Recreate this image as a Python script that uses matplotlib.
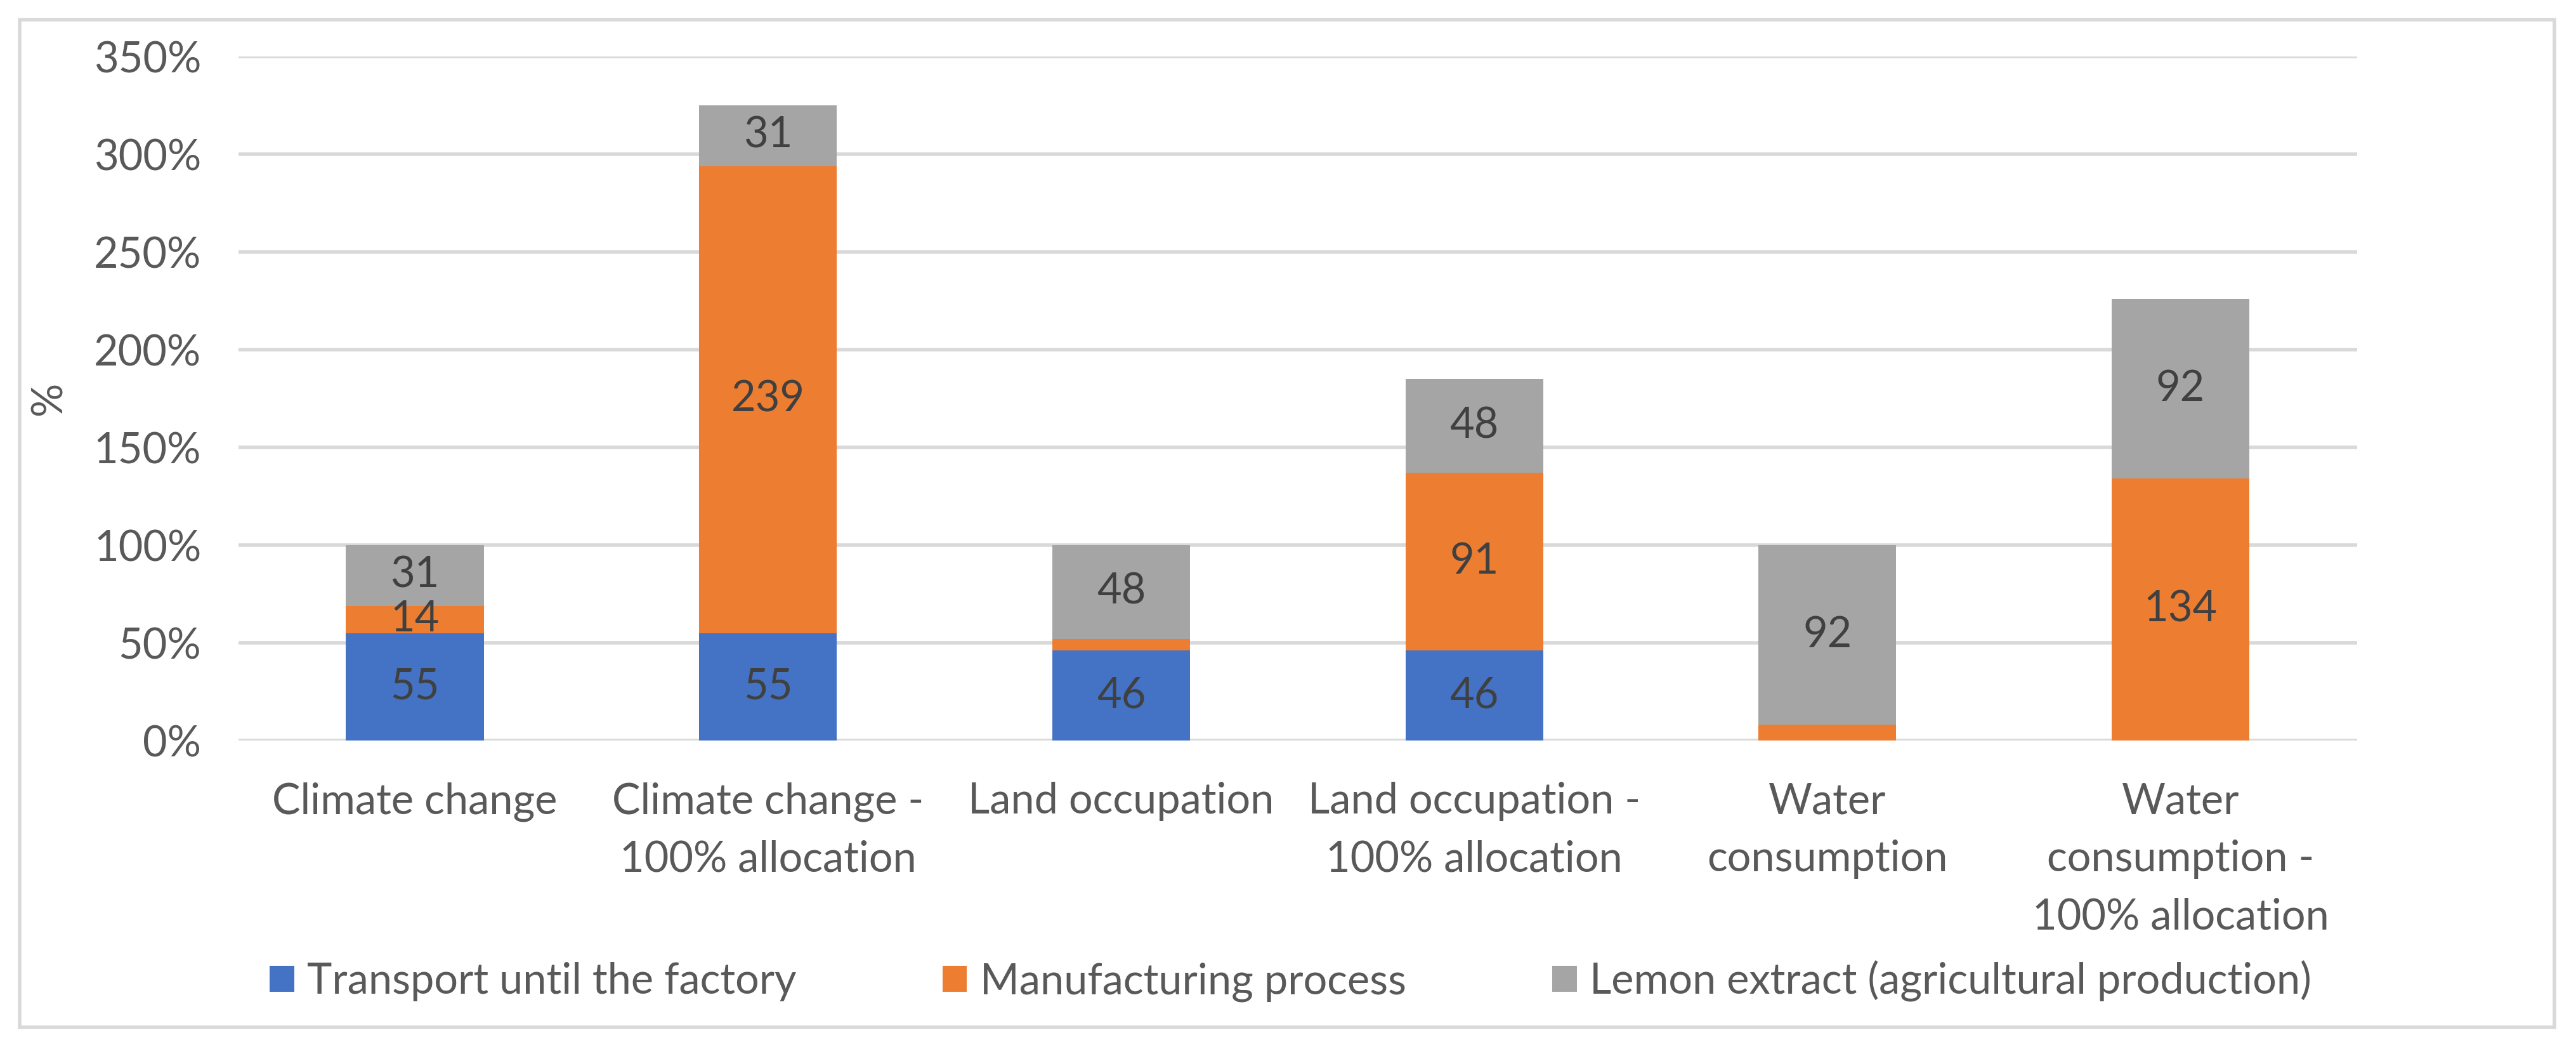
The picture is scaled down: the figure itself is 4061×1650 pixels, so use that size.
import matplotlib
matplotlib.use("Agg")
import matplotlib.pyplot as plt
from matplotlib.patches import Rectangle
import numpy as np

categories = ["Climate change", "Climate change -\n100% allocation", "Land occupation",
              "Land occupation -\n100% allocation", "Water\nconsumption",
              "Water\nconsumption -\n100% allocation"]
series_names = ["Transport until the factory", "Manufacturing process",
                "Lemon extract (agricultural production)"]
transport = [55, 55, 46, 46, 0, 0]
manufacturing = [14, 239, 6, 91, 8, 134]
lemon = [31, 31, 48, 48, 92, 92]
yticks = [0, 50, 100, 150, 200, 250, 300, 350]
colors = ["#4472C4", "#ED7D31", "#A5A5A5"]

plt.rcParams['font.family'] = ['Lato', 'DejaVu Sans']
FS = 48

fig = plt.figure(figsize=(40.61, 16.5), dpi=100)
ax = fig.add_axes([0.0925, 0.2927, 0.915 - 0.0925, 0.946 - 0.2927])

x = np.arange(len(categories))
bottom = np.zeros(len(categories))
for vals, col, name in zip([transport, manufacturing, lemon], colors, series_names):
    vals = np.array(vals, dtype=float)
    ax.bar(x, vals, width=0.39, bottom=bottom, color=col, label=name, zorder=3)
    for xi, v, b in zip(x, vals, bottom):
        if v >= 10:
            ax.text(xi, b + v / 2, f"{int(v)}", ha="center", va="center",
                    fontsize=FS, color="#404040", zorder=4)
    bottom += vals

ax.set_xlim(-0.5, len(categories) - 0.5)
ax.set_ylim(0, 350)
ax.set_yticks(yticks)
ax.set_yticklabels([f"{t}%" for t in yticks], fontsize=FS, color="#595959")
ax.set_xticks(x)
ax.set_xticklabels(categories, fontsize=FS, color="#595959", linespacing=1.58)
ax.tick_params(axis="both", length=0)
ax.tick_params(axis="y", pad=42)
ax.tick_params(axis="x", pad=47)
for s in ax.spines.values():
    s.set_visible(False)
ax.yaxis.grid(True, color="#D9D9D9", linewidth=4, zorder=0)
ax.set_axisbelow(True)

fig.text(0.019, 0.619, "%", rotation=90, ha="center", va="center",
         fontsize=FS, color="#595959")

handles, labels = ax.get_legend_handles_labels()
fig.legend(handles, labels, loc="center", bbox_to_anchor=(0.501, 0.063), ncol=3,
           frameon=False, fontsize=FS, labelcolor="#595959", handlelength=0.58,
           handleheight=0.58, handletextpad=0.31, columnspacing=3.45)

fig.patches.append(Rectangle((0.0077, 0.019), 0.984, 0.962, transform=fig.transFigure,
                             fill=False, edgecolor="#D9D9D9", linewidth=4))

fig.savefig("out.png", dpi=100, facecolor="white")
